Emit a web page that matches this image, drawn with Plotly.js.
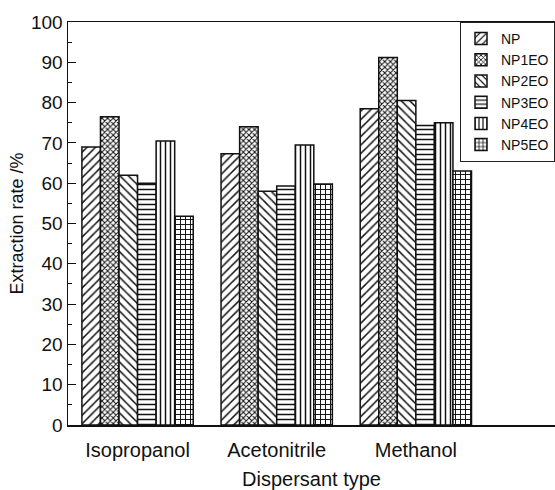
<!DOCTYPE html>
<html>
<head>
<meta charset="utf-8">
<script src="https://cdn.plot.ly/plotly-3.0.1.min.js"></script>
<style>html,body{margin:0;padding:0;background:#fff;}#chart{width:555px;height:490px;}</style>
</head>
<body>
<div id="chart"></div>
<script>
var categories = ["Isopropanol", "Acetonitrile", "Methanol"];
var seriesNames = ["NP", "NP1EO", "NP2EO", "NP3EO", "NP4EO", "NP5EO"];
var NP    = [69.0, 67.3, 78.5];
var NP1EO = [76.5, 74.0, 91.2];
var NP2EO = [62.0, 58.0, 80.5];
var NP3EO = [60.0, 59.3, 74.3];
var NP4EO = [70.5, 69.5, 75.0];
var NP5EO = [51.8, 59.8, 63.0];
var yTicks = [0, 10, 20, 30, 40, 50, 60, 70, 80, 90, 100];

var seriesValues = [NP, NP1EO, NP2EO, NP3EO, NP4EO, NP5EO];
var shapes = ["/", "x", "\\", "-", "|", "+"];
var sizes = [6, 4, 6, 5, 5, 5];
var sol = [0.25, 0.45, 0.25, 0.3, 0.3, 0.35];

var traces = seriesNames.map(function(name, i) {
  return {
    type: "bar",
    name: name,
    x: categories,
    y: seriesValues[i],
    marker: {
      color: "white",
      line: {color: "#111", width: 1.5},
      pattern: {shape: shapes[i], size: sizes[i], solidity: sol[i], fgcolor: "#111", bgcolor: "white", fillmode: "replace"}
    }
  };
});

var layout = {
  width: 555, height: 490,
  margin: {l: 68, r: 0, t: 22, b: 65},
  paper_bgcolor: "white", plot_bgcolor: "white",
  font: {family: "Liberation Sans, Arial, sans-serif", color: "#111", size: 18},
  barmode: "group", bargap: 0.2, bargroupgap: 0,
  showlegend: true,
  legend: {
    x: 1, y: 1, xanchor: "right", yanchor: "top",
    bordercolor: "#222", borderwidth: 1, bgcolor: "white",
    font: {size: 14, color: "#111"},
    itemwidth: 30, tracegroupgap: 0
  },
  xaxis: {
    type: "category",
    range: [-0.5, 3.0],
    showline: true, linecolor: "#111", linewidth: 1.5,
    mirror: true,
    ticks: "", showgrid: false, zeroline: false,
    tickfont: {size: 20},
    ticklabelstandoff: 6,
    title: {text: "Dispersant type", font: {size: 20}, standoff: 16}
  },
  yaxis: {
    range: [0, 100],
    tickvals: yTicks,
    showline: true, linecolor: "#111", linewidth: 1.5,
    ticks: "inside", ticklen: 8, tickwidth: 1, tickcolor: "#111",
    minor: {ticks: "inside", ticklen: 4, dtick: 5, tickcolor: "#111", tickwidth: 1, showgrid: false},
    showgrid: false, zeroline: false,
    tickfont: {size: 19},
    title: {text: "Extraction rate /%", font: {size: 18}, standoff: 2}
  }
};

Plotly.newPlot("chart", traces, layout, {displayModeBar: false, staticPlot: true});
</script>
</body>
</html>
